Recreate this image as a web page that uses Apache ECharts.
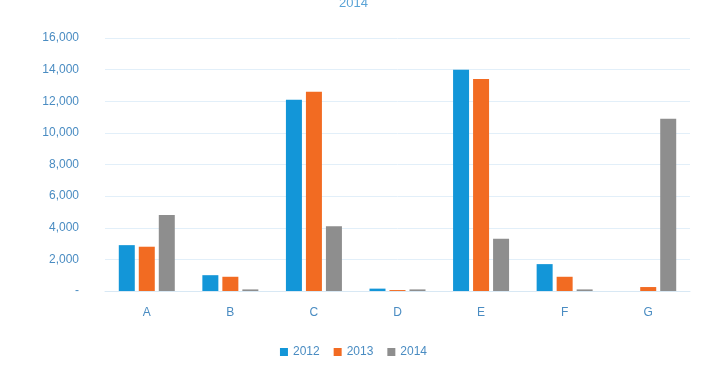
<!DOCTYPE html>
<html>
<head>
<meta charset="utf-8">
<script src="https://cdn.jsdelivr.net/npm/echarts@6/dist/echarts.min.js"></script>
<style>
  html, body { margin: 0; padding: 0; background: #fff; }
  #chartContainer { width: 707px; height: 367px; }
</style>
</head>
<body>
<div id="chartContainer"></div>
<script>
const categories = ["A", "B", "C", "D", "E", "F", "G"];
const values2012 = [2900, 1000, 12100, 150, 14000, 1700, 0];
const values2013 = [2800, 900, 12600, 60, 13400, 900, 250];
const values2014 = [4800, 100, 4100, 100, 3300, 100, 10900];
const yTicks = { min: 0, max: 16000, interval: 2000 };

const chart = echarts.init(document.getElementById('chartContainer'));

const labelColor = '#4a8cc2';

const option = {
    animation: false,
    title: {
        text: '2014',
        left: 'center',
        top: -8,
        textStyle: { color: '#5aa3d6', fontSize: 13, fontWeight: 'normal' }
    },
    legend: {
        bottom: 4,
        left: 'center',
        itemWidth: 8,
        itemHeight: 8,
        itemGap: 14,
        icon: 'rect',
        textStyle: { color: labelColor, fontSize: 12 },
        data: ['2012', '2013', '2014']
    },
    grid: { left: 105, right: 17, top: 38, bottom: 76 },
    xAxis: {
        type: 'category',
        data: categories,
        axisLine: { lineStyle: { color: '#d8e8f4' } },
        axisTick: { show: false },
        axisLabel: { color: labelColor, fontSize: 12, margin: 16 }
    },
    yAxis: {
        type: 'value',
        min: yTicks.min,
        max: yTicks.max,
        interval: yTicks.interval,
        axisLine: { show: false },
        axisTick: { show: false },
        splitLine: { lineStyle: { color: '#e2eff9' } },
        axisLabel: {
            color: labelColor,
            fontSize: 12,
            margin: 26,
            formatter: (v) => v === 0 ? '-' : v.toLocaleString('en-US')
        }
    },
    series: [
        {
            name: '2012', type: 'bar', data: values2012,
            barWidth: 16, barGap: '25%',
            itemStyle: { color: '#1396d8' }
        },
        {
            name: '2013', type: 'bar', data: values2013,
            barWidth: 16, barGap: '25%',
            itemStyle: { color: '#f26b22' }
        },
        {
            name: '2014', type: 'bar', data: values2014,
            barWidth: 16, barGap: '25%',
            itemStyle: { color: '#8e8e8e' }
        }
    ]
};

chart.setOption(option);
</script>
</body>
</html>
